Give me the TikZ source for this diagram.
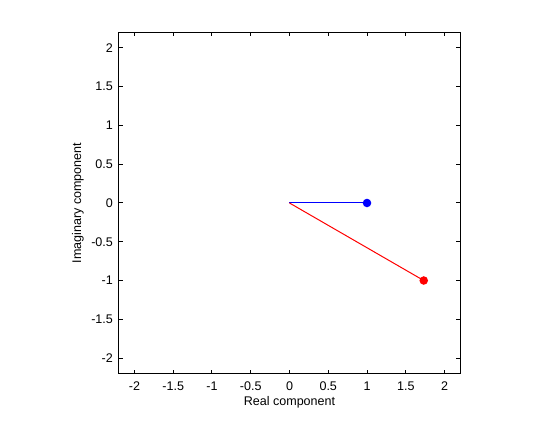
\documentclass[tikz,border=0pt]{standalone}
\usepackage{fontspec}
\setmainfont{Liberation Sans}
\usetikzlibrary{positioning,calc}

\begin{document}
\begin{tikzpicture}[
    x=58.125pt, y=58.125pt,
    font=\fontsize{9.4}{11}\selectfont,
    axis_box/.style={draw=black, line width=0.75pt},
    tick_mark/.style={draw=black, line width=0.75pt},
    tick_label/.style={inner sep=0pt},
    phasor/.style={line width=0.75pt},
    dot/.style={circle, inner sep=0pt, minimum size=6.4pt}
]
\useasboundingbox (-3.735,-2.800) rectangle (3.490,2.619);

% AXES BOX AND TICKS
\draw[axis_box] (-2.2,-2.2) rectangle (2.2,2.2);
\foreach \t/\lab in {-2/-2,-1.5/-1.5,-1/-1,-0.5/-0.5,0/0,0.5/0.5,1/1,1.5/1.5,2/2} {
    \draw[tick_mark] (\t,-2.2) -- ++(0,0.05);
    \draw[tick_mark] (\t,2.2) -- ++(0,-0.05);
    \draw[tick_mark] (-2.2,\t) -- ++(0.05,0);
    \draw[tick_mark] (2.2,\t) -- ++(-0.05,0);
    \node[tick_label, anchor=north] at (\t,-2.30) {\lab};
    \node[tick_label, anchor=east] at (-2.275,\t) {\lab};
}

% AXIS LABELS
\node (xlabel) at (0,-2.568) {Real component};
\node[rotate=90] (ylabel) at (-2.729,0) {Imaginary component};

% PHASORS
\coordinate (origin) at (0,0);
\coordinate (z_one) at (1,0);
\coordinate (z_two) at ({sqrt(3)},-1);
\draw[phasor, blue] (origin) -- (z_one);
\draw[phasor, red] (origin) -- (z_two);
\node[dot, fill=blue] (blue_pt) at (z_one) {};
\node[dot, fill=red] (red_pt) at (z_two) {};

\end{tikzpicture}
\end{document}
